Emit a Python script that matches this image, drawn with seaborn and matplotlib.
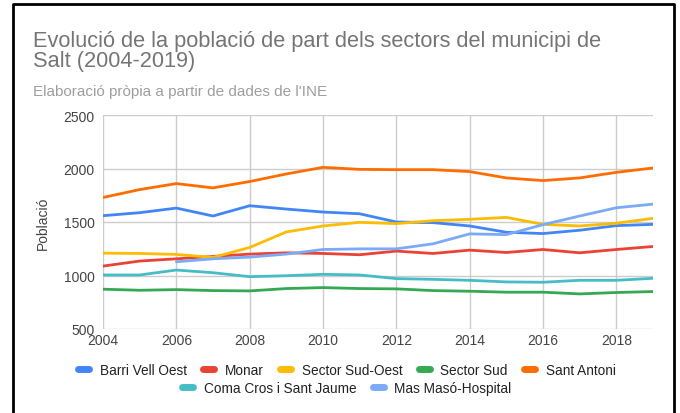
import numpy as np
import pandas as pd
import matplotlib
matplotlib.use("Agg")
import matplotlib.pyplot as plt
import seaborn as sns
from matplotlib.lines import Line2D

# Dades (llegides del gràfic)
years = list(range(2004, 2020))
barri_vell_oest = [1559, 1587, 1630, 1556, 1652, 1621, 1593, 1577, 1500, 1494, 1463, 1404, 1392, 1423, 1466, 1478]
monar = [1088, 1135, 1156, 1178, 1200, 1212, 1206, 1194, 1228, 1206, 1237, 1215, 1243, 1212, 1243, 1271]
sector_sud_oest = [1209, 1206, 1197, 1169, 1262, 1407, 1463, 1497, 1485, 1512, 1525, 1543, 1478, 1463, 1488, 1534]
sector_sud = [872, 862, 868, 859, 856, 878, 887, 878, 875, 859, 853, 844, 844, 828, 841, 850]
sant_antoni = [1729, 1803, 1859, 1819, 1878, 1949, 2011, 1992, 1989, 1989, 1971, 1912, 1887, 1912, 1964, 2005]
coma_cros = [1005, 1005, 1051, 1026, 989, 998, 1011, 1005, 971, 964, 955, 940, 937, 955, 955, 974]
mas_maso = [np.nan, np.nan, 1128, 1156, 1172, 1200, 1243, 1249, 1249, 1296, 1389, 1382, 1475, 1556, 1633, 1667]

sectors = ["Barri Vell Oest", "Monar", "Sector Sud-Oest", "Sector Sud",
           "Sant Antoni", "Coma Cros i Sant Jaume", "Mas Masó-Hospital"]
series = [barri_vell_oest, monar, sector_sud_oest, sector_sud,
          sant_antoni, coma_cros, mas_maso]
colors = ["#4285F4", "#EA4335", "#FBBC04", "#34A853", "#FF6D01", "#46BDC6", "#7BAAF7"]

df = pd.DataFrame({
    "Any": np.tile(years, len(sectors)),
    "Sector": np.repeat(sectors, len(years)),
    "Població": np.concatenate(series),
})

sns.set_theme(style="white")
plt.rcParams["font.family"] = ["Liberation Sans", "DejaVu Sans"]

fig = plt.figure(figsize=(6.8, 4.14), dpi=100)
ax = fig.add_axes([103 / 680, 1 - 330 / 414, 550 / 680, 214 / 414])

sns.lineplot(data=df, x="Any", y="Població", hue="Sector", hue_order=sectors,
             palette=colors, linewidth=2, ax=ax, legend=False)

ax.set_xlim(2004, 2019)
ax.set_ylim(500, 2500)
ax.set_xticks(range(2004, 2019, 2))
ax.set_yticks(range(500, 2501, 500))
ax.grid(True, color="#cccccc", linewidth=1)
ax.set_axisbelow(True)
for s in ax.spines.values():
    s.set_visible(False)
ax.tick_params(axis="both", length=0, labelsize=10, labelcolor="#444444")
ax.tick_params(axis="x", pad=3)
ax.tick_params(axis="y", pad=6)
ax.set_xlabel("")
ax.set_ylabel("Població", fontsize=10, color="#444444", labelpad=10)

# títol i subtítol
fig.text(33 / 680, 1 - 46.7 / 414, "Evolució de la població de part dels sectors del municipi de",
         fontsize=15.7, color="#757575", va="baseline", ha="left")
fig.text(33 / 680, 1 - 66.7 / 414, "Salt (2004-2019)",
         fontsize=15.7, color="#757575", va="baseline", ha="left")
fig.text(33 / 680, 1 - 96 / 414, "Elaboració pròpia a partir de dades de l'INE",
         fontsize=11, color="#9e9e9e", va="baseline", ha="left")

handles = [Line2D([0], [0], color=c, linewidth=5) for c in colors]
fig.legend(handles[:5], sectors[:5], loc="center", bbox_to_anchor=(0.51, 1 - 371 / 414),
           ncol=5, frameon=False, fontsize=9.8, handlelength=0.8, handletextpad=0.8,
           columnspacing=1.2, labelcolor="#222222")
fig.legend(handles[5:], sectors[5:], loc="center", bbox_to_anchor=(0.51, 1 - 389 / 414),
           ncol=2, frameon=False, fontsize=9.8, handlelength=0.8, handletextpad=0.8,
           columnspacing=1.2, labelcolor="#222222")

# marc negre de la captura
frame = Line2D([13 / 680, 13 / 680, 674 / 680, 674 / 680],
               [0, 1 - 5 / 414, 1 - 5 / 414, 0], transform=fig.transFigure,
               color="black", linewidth=2)
fig.add_artist(frame)

fig.savefig("out.png", dpi=100)
